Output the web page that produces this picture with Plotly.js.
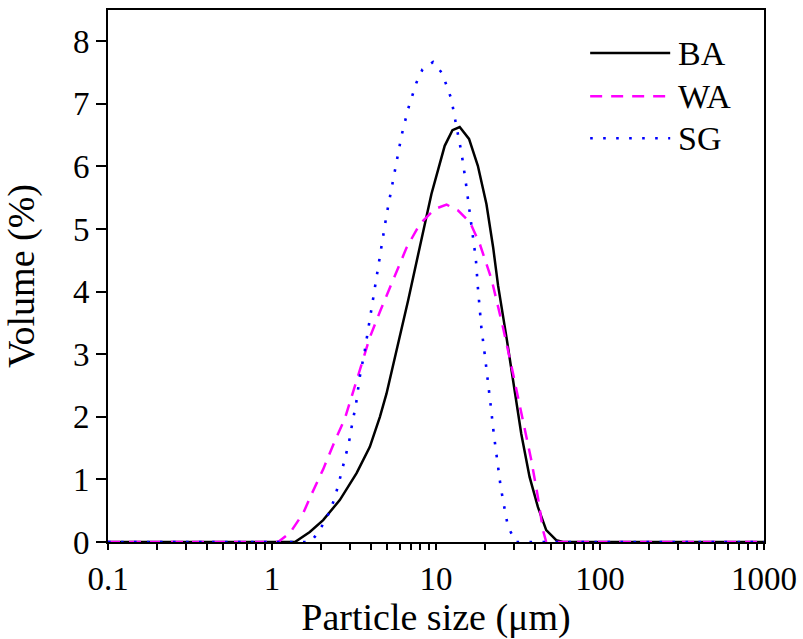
<!DOCTYPE html>
<html>
<head>
<meta charset="utf-8">
<script src="https://cdn.plot.ly/plotly-3.0.1.min.js"></script>
<style>
html,body{margin:0;padding:0;}
.modebar-container{display:none !important;}
</style>
</head>
<body>
<div id="chart" style="width:803px;height:639px"></div>
<script>
// Particle size (um) and volume (%)
const baSize = [0.1, 1.0, 1.38, 1.70, 2.05, 2.59, 3.28, 3.95, 4.55, 4.99, 5.61, 6.76, 7.96, 9.38, 11.3, 12.6, 13.95, 15.9, 18.0, 20.3, 22.3, 23.9, 26.9, 30.2, 33.1, 37.2, 41.8, 47.0, 54.1, 59.4, 1000];
const baVol  = [0, 0, 0, 0.16, 0.35, 0.67, 1.10, 1.52, 2.00, 2.37, 2.93, 3.86, 4.71, 5.56, 6.33, 6.58, 6.63, 6.44, 6.01, 5.40, 4.71, 4.10, 3.27, 2.42, 1.73, 1.04, 0.56, 0.19, 0.03, 0, 0];

const waSize = [0.1, 1.0, 1.09, 1.29, 1.55, 1.74, 2.05, 2.42, 2.78, 3.28, 3.95, 4.55, 5.11, 6.61, 7.96, 9.82, 11.6, 13.6, 16.1, 18.5, 21.8, 25.6, 29.5, 33.9, 38.1, 41.8, 44.9, 47.0, 1000];
const waVol  = [0, 0, 0, 0.15, 0.46, 0.76, 1.16, 1.62, 1.97, 2.58, 3.27, 3.68, 4.00, 4.70, 5.08, 5.32, 5.39, 5.30, 5.11, 4.76, 4.20, 3.43, 2.69, 1.95, 1.31, 0.72, 0.19, 0, 0];

const sgSize = [0.1, 1.0, 1.72, 1.83, 2.07, 2.28, 2.42, 2.56, 2.68, 2.82, 2.94, 3.04, 3.16, 3.26, 3.43, 3.68, 3.91, 4.14, 4.54, 4.99, 5.35, 5.74, 6.16, 6.76, 7.60, 8.27, 9.60, 10.9, 12.4, 13.3, 14.3, 15.1, 15.9, 16.7, 17.5, 18.0, 18.9, 19.8, 20.8, 21.6, 22.5, 23.5, 24.8, 26.5, 27.5, 29.9, 30.5, 1000];
const sgVol  = [0, 0, 0, 0.09, 0.30, 0.52, 0.72, 0.95, 1.16, 1.37, 1.58, 1.80, 2.01, 2.22, 2.64, 3.06, 3.49, 3.91, 4.58, 5.22, 5.64, 6.07, 6.49, 6.92, 7.34, 7.55, 7.67, 7.49, 7.08, 6.65, 6.22, 5.80, 5.37, 4.95, 4.52, 4.07, 3.43, 3.01, 2.58, 2.16, 1.73, 1.31, 0.88, 0.46, 0.24, 0.06, 0, 0];

const seriesNames = ['BA', 'WA', 'SG'];
const xTickVals = [0.1, 1, 10, 100, 1000];
const xTickText = ['0.1', '1', '10', '100', '1000'];

// decade labels plus unlabeled ticks at 2..9 of each decade
const allTickVals = [], allTickText = [];
for (let e = -1; e < 3; e++) {
  for (let d = 1; d <= 9; d++) {
    allTickVals.push(d * Math.pow(10, e));
    allTickText.push(d === 1 ? xTickText[e + 1] : '');
  }
}
allTickVals.push(xTickVals[4]); allTickText.push(xTickText[4]);

const styles = [
  {color: '#000000', width: 2.5, dash: 'solid'},
  {color: '#FF00FF', width: 2.5, dash: '12px,9px'},
  {color: '#0000FF', width: 2.6, dash: '2.6px,10.4px'}
];

const traces = seriesNames.map((n, i) => ({
  x: [baSize, waSize, sgSize][i], y: [baVol, waVol, sgVol][i],
  name: n, type: 'scatter', mode: 'lines', line: styles[i]
}));

// custom legend (long sample lines as in the reference)
const legX0 = 0.735, legX1 = 0.857, legTx = 0.866;
const legY = [0.919, 0.838, 0.759];
const shapes = [], annotations = [];
seriesNames.forEach((n, i) => {
  shapes.push({type: 'line', xref: 'paper', yref: 'paper', x0: legX0, x1: legX1, y0: legY[i], y1: legY[i],
    line: {color: styles[i].color, width: styles[i].width, dash: styles[i].dash}});
  annotations.push({xref: 'paper', yref: 'paper', x: legTx, y: legY[i], xanchor: 'left', yanchor: 'middle',
    text: n, showarrow: false, font: {family: 'Liberation Serif', size: 34, color: 'black'}});
});

const layout = {
  width: 803, height: 639,
  margin: {l: 108, r: 39, t: 10, b: 97},
  showlegend: false,
  xaxis: {
    type: 'log', range: [-1, 3],
    tickmode: 'array', tickvals: allTickVals, ticktext: allTickText,
    ticks: 'outside', ticklen: 6, tickwidth: 1.6, tickcolor: 'black',
    showline: true, linewidth: 2, linecolor: 'black', mirror: true,
    showgrid: false, zeroline: false,
    tickfont: {family: 'serif', size: 33, color: 'black'},
    title: {text: 'Particle size (μm)', font: {family: 'Tinos', size: 38, color: 'black'}}
  },
  yaxis: {
    range: [0, 8.5], dtick: 1, tick0: 0,
    ticks: 'outside', ticklen: 10, tickwidth: 2, tickcolor: 'black',
    showline: true, linewidth: 2, linecolor: 'black', mirror: true,
    showgrid: false, zeroline: false,
    tickfont: {family: 'serif', size: 33, color: 'black'},
    title: {text: 'Volume (%)', font: {family: 'Tinos', size: 38, color: 'black'}}
  },
  shapes: shapes,
  annotations: annotations
};

Plotly.newPlot('chart', traces, layout);
</script>
</body>
</html>
